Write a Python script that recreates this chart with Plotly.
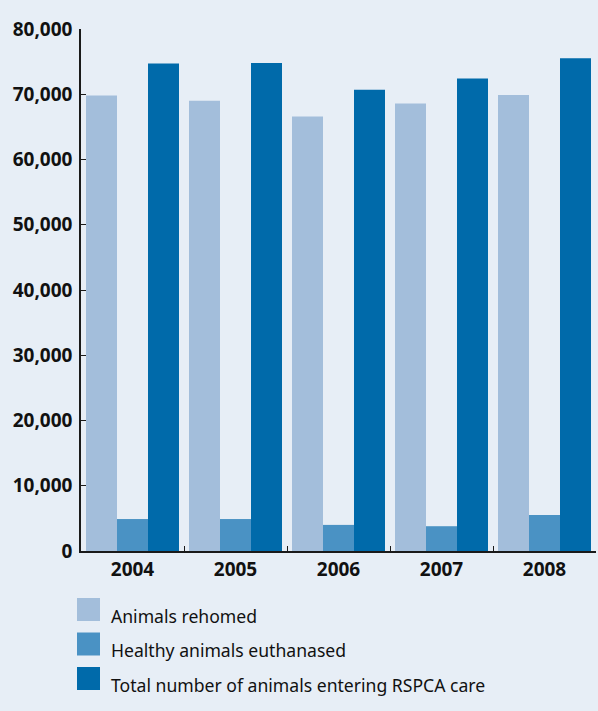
import plotly.graph_objects as go

years = ["2004", "2005", "2006", "2007", "2008"]
rehomed = [69800, 69000, 66600, 68600, 69900]
euthanased = [4900, 4900, 4000, 3800, 5500]
total = [74700, 74800, 70700, 72400, 75500]

series_names = [
    "Animals rehomed",
    "Healthy animals euthanased",
    "Total number of animals entering RSPCA care",
]
series_values = [rehomed, euthanased, total]
colors = ["#a3bedb", "#4a92c4", "#006aaa"]

W, H = 598, 711
ML, MR, MT, MB = 81, 2, 29, 160
PW, PH = W - ML - MR, H - MT - MB

def px_x(px):
    return (px - ML) / PW

def px_y(py):
    return (H - MB - py) / PH

fig = go.Figure()
for name, vals, col in zip(series_names, series_values, colors):
    fig.add_trace(go.Bar(x=years, y=vals, name=name, marker=dict(color=col, line=dict(width=0)),
                         showlegend=False))

font_fam = "Noto Sans"
axis_col = "#1a1a1a"

# manual legend
shapes = []
annotations = []
sq_tops = [598, 632.5, 667]
txt_mid = [615.5, 650, 685]
for i, (name, col) in enumerate(zip(series_names, colors)):
    shapes.append(dict(type="rect", xref="paper", yref="paper",
                       x0=px_x(77), x1=px_x(100), y0=px_y(sq_tops[i]), y1=px_y(sq_tops[i] + 23),
                       fillcolor=col, line=dict(width=0)))
    annotations.append(dict(xref="paper", yref="paper", x=px_x(109), y=px_y(txt_mid[i]),
                            xanchor="left", yanchor="middle", showarrow=False, text=name,
                            font=dict(family=font_fam, size=17.6, color="#111")))

fig.update_layout(
    width=W, height=H,
    margin=dict(l=ML, r=MR, t=MT, b=MB, pad=0),
    paper_bgcolor="#e7eef6", plot_bgcolor="#e7eef6",
    barmode="group", bargap=0.097, bargroupgap=0,
    shapes=shapes, annotations=annotations,
    font=dict(family=font_fam, color="#111"),
)
fig.update_yaxes(
    range=[0, 80000], tickvals=list(range(0, 80001, 10000)), tickformat=",",
    showgrid=False, zeroline=False, showline=True, linecolor=axis_col, linewidth=1.5,
    ticks="inside", ticklen=5, tickwidth=1.2, tickcolor=axis_col,
    tickfont=dict(family=font_fam, size=19, color="#111", weight="bold"),
    ticklabelstandoff=3,
)
fig.update_xaxes(
    showgrid=False, zeroline=False, showline=True, linecolor=axis_col, linewidth=1.5,
    ticks="inside", tickson="boundaries", ticklen=5, tickwidth=1.2, tickcolor=axis_col,
    tickfont=dict(family=font_fam, size=19, color="#111", weight="bold"),
    ticklabelstandoff=0,
)

fig.write_html("out.html")
